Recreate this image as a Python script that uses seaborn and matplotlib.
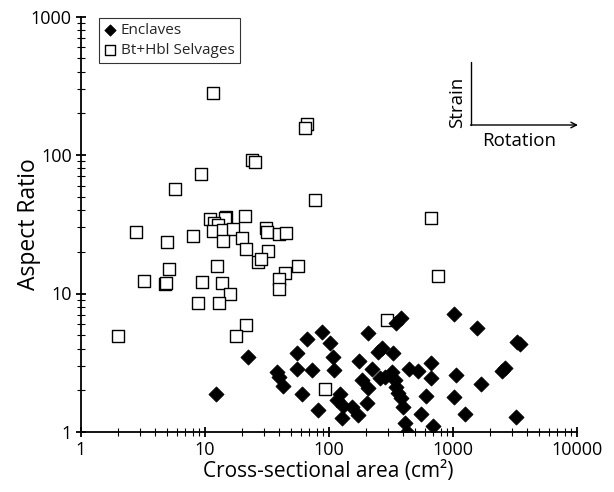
import matplotlib
matplotlib.use("Agg")
import matplotlib.pyplot as plt
import seaborn as sns
import numpy as np
import pandas as pd
from matplotlib.ticker import LogLocator, NullFormatter, FixedLocator, FixedFormatter

# ---- data ----
enclave_area = [1030, 1560, 3300, 3500, 2640, 2480, 1690, 1057, 1020, 1256, 3220,
                668, 668, 609, 555, 698, 412, 426, 381, 349, 206, 267, 251, 332,
                176, 222, 259, 285, 322, 343, 442, 528, 349, 364, 381, 401, 185,
                208, 203, 123, 116, 131, 153, 173, 127, 82.5, 61.2, 87.8, 67.3,
                103, 55.8, 109, 55.8, 72.9, 110, 38.1, 40.0, 42.6, 22.5, 12.3]
enclave_ratio = [7.08, 5.61, 4.5, 4.3, 2.88, 2.77, 2.21, 2.59, 1.80, 1.35, 1.28,
                 3.16, 2.44, 1.83, 1.36, 1.10, 1.16, 1.00, 6.62, 6.09, 5.21, 4.02,
                 3.80, 3.70, 3.27, 2.85, 2.44, 2.51, 2.73, 2.37, 2.84, 2.76, 2.10,
                 1.90, 1.75, 1.52, 2.37, 2.07, 1.63, 1.87, 1.70, 1.54, 1.52, 1.33,
                 1.26, 1.44, 1.87, 5.25, 4.67, 4.37, 3.70, 3.46, 2.85, 2.80, 2.80,
                 2.73, 2.51, 2.16, 3.50, 1.88]

selvage_area = [11.7, 66.5, 64, 24.2, 25.5, 9.28, 5.76, 77.6, 2.78, 4.97, 8.09,
                11.0, 14.9, 14.5, 21.1, 11.9, 12.8, 11.6, 14.1, 17.0, 14.0, 20.0,
                21.5, 31.0, 32.0, 40.0, 45.0, 32.6, 27.0, 28.6, 56.9, 44.7, 39.7,
                39.4, 12.5, 5.15, 3.22, 4.78, 4.85, 9.57, 13.7, 16.0, 8.88, 13.0,
                21.5, 17.9, 2.01, 295, 93.4, 668, 760]
selvage_ratio = [279, 167, 156, 92, 88.6, 72.6, 56.5, 47.1, 27.7, 23.7, 26.0,
                 34.5, 35.9, 34.9, 36.5, 32.1, 31.2, 28.4, 28.7, 29.2, 23.9, 25.0,
                 20.8, 29.6, 27.7, 26.7, 27.5, 20.3, 17.0, 17.7, 15.9, 14.0, 12.7,
                 10.8, 15.9, 15.0, 12.4, 11.8, 11.9, 12.2, 12.0, 9.87, 8.58, 8.58,
                 5.93, 4.93, 4.93, 6.44, 2.06, 35.0, 13.4]

x_ticks = [1, 10, 100, 1000, 10000]
x_tick_labels = ["1", "10", "100", "1000", "10000"]
y_ticks = [1, 10, 100, 1000]
y_tick_labels = ["1", "10", "100", "1000"]

enc = pd.DataFrame({"area": enclave_area, "ratio": enclave_ratio})
sel = pd.DataFrame({"area": selvage_area, "ratio": selvage_ratio})

sns.set_theme(style="white")
plt.rcParams["font.family"] = ["Open Sans", "DejaVu Sans"]

fig = plt.figure(figsize=(6.14, 4.92), dpi=100)
ax = fig.add_axes([80.7 / 614, 1 - 432 / 492, (576.7 - 80.7) / 614, (432 - 16.5) / 492])

sns.scatterplot(data=sel, x="area", y="ratio", ax=ax, marker="s", s=80,
                facecolor="white", edgecolor="black", linewidth=1.0,
                label="Bt+Hbl Selvages", zorder=2)
sns.scatterplot(data=enc, x="area", y="ratio", ax=ax, marker="D", s=60,
                color="black", edgecolor="black", linewidth=0.5,
                label="Enclaves", zorder=3)

ax.set_xscale("log")
ax.set_yscale("log")
ax.set_xlim(1, 10000)
ax.set_ylim(1, 1000)

ax.xaxis.set_major_locator(FixedLocator(x_ticks))
ax.xaxis.set_major_formatter(FixedFormatter(x_tick_labels))
ax.yaxis.set_major_locator(FixedLocator(y_ticks))
ax.yaxis.set_major_formatter(FixedFormatter(y_tick_labels))
ax.xaxis.set_minor_locator(LogLocator(base=10, subs=np.arange(2, 10)))
ax.yaxis.set_minor_locator(LogLocator(base=10, subs=np.arange(2, 10)))
ax.xaxis.set_minor_formatter(NullFormatter())
ax.yaxis.set_minor_formatter(NullFormatter())

for side in ["top", "right"]:
    ax.spines[side].set_visible(False)
for side in ["left", "bottom"]:
    ax.spines[side].set_color("black")
    ax.spines[side].set_linewidth(1.3)

ax.tick_params(which="major", direction="inout", length=7, width=1.3,
               color="black", labelsize=13, labelcolor="black", pad=3,
               bottom=True, left=True)
ax.tick_params(which="minor", direction="inout", length=6, width=0.8,
               color="black", bottom=True, left=True)

ax.set_xlabel("Cross-sectional area (cm²)", fontsize=15, color="black")
ax.set_ylabel("Aspect Ratio", fontsize=16.5, color="black")
ax.xaxis.set_label_coords(0.5, (432 - 461) / (432 - 16.5))
ax.yaxis.set_label_coords((29 - 80.7) / 496, 0.5)
ax.xaxis.label.set_va("top")
ax.yaxis.label.set_va("center")

# legend: Enclaves first
handles, labels = ax.get_legend_handles_labels()
order = [labels.index("Enclaves"), labels.index("Bt+Hbl Selvages")]
leg = ax.legend([handles[i] for i in order], [labels[i] for i in order],
                loc="upper left", bbox_to_anchor=(18 / 496, 0.997),
                fontsize=11, frameon=True, fancybox=False, shadow=False,
                borderaxespad=0, handlelength=0.8, handletextpad=0.3,
                borderpad=0.35, labelspacing=0.3, markerscale=0.75)
leg.get_frame().set_edgecolor("black")
leg.get_frame().set_linewidth(0.8)

# Strain / Rotation schematic (axes-fraction coordinates)
def fx(px):
    return (px - 80.7) / (576.7 - 80.7)

def fy(py):
    return (432 - py) / (432 - 16.5)

ax.plot([fx(471), fx(471)], [fy(62), fy(125)], transform=ax.transAxes,
        color="black", lw=1.0, clip_on=False)
ax.annotate("", xy=(fx(578), fy(125)), xytext=(fx(470.5), fy(125)),
            xycoords="axes fraction", textcoords="axes fraction",
            arrowprops=dict(arrowstyle="->", color="black", lw=1.0,
                            shrinkA=0, shrinkB=0, mutation_scale=10))
ax.text(fx(519), fy(141), "Rotation", transform=ax.transAxes, fontsize=13.5,
        ha="center", va="center", color="black")
ax.text(fx(457), fy(102), "Strain", transform=ax.transAxes, fontsize=13.5,
        ha="center", va="center", rotation=90, color="black")

fig.savefig("out.png", dpi=100)
